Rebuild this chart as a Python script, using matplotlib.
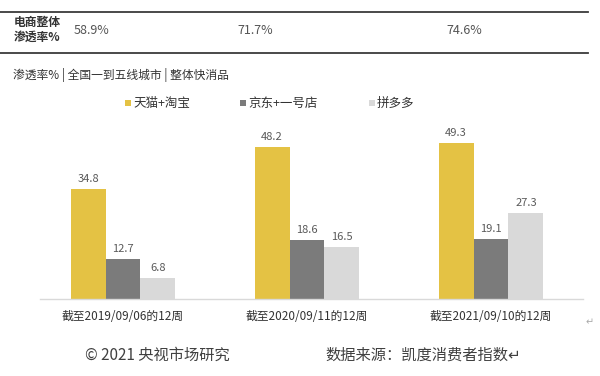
import matplotlib
matplotlib.use("Agg")
import matplotlib.pyplot as plt
from matplotlib.lines import Line2D
from matplotlib.patches import Rectangle
import numpy as np

plt.rcParams['font.family'] = ['Noto Sans CJK SC', 'DejaVu Sans']

# ---- data ----
categories = ["截至2019/09/06的12周", "截至2020/09/11的12周", "截至2021/09/10的12周"]
series_names = ["天猫+淘宝", "京东+一号店", "拼多多"]
tmall_taobao = [34.8, 48.2, 49.3]
jd_yhd = [12.7, 18.6, 19.1]
pdd = [6.8, 16.5, 27.3]
overall_label = "电商整体\n渗透率%"
overall_rate = ["58.9%", "71.7%", "74.6%"]
subtitle = "渗透率% | 全国一到五线城市 | 整体快消品"
footer_left = "© 2021 央视市场研究"
footer_right = "数据来源：凯度消费者指数↵"

colors = ["#E4C244", "#7B7B7B", "#D9D9D9"]

W, H = 600, 376
fig = plt.figure(figsize=(W / 100, H / 100), dpi=100)


def fy(y):
    return 1 - y / H


def fx(x):
    return x / W


# ---- table at top ----
for y in (12, 53):
    fig.add_artist(Line2D([0, fx(588)], [fy(y), fy(y)], color="#3A3A3A", lw=1.3))
fig.text(fx(14), fy(30), overall_label, fontsize=8.5, fontweight="bold",
         color="#333333", va="center", ha="left", linespacing=1.15)
for xp, t in zip([74, 237, 446], overall_rate):
    fig.text(fx(xp), fy(31), t, fontsize=9, color="#555555", va="center", ha="left")

# ---- subtitle ----
fig.text(fx(13), fy(75), subtitle, fontsize=8.5, color="#333333", va="center", ha="left")

# ---- legend ----
for sx, name, c in zip([128, 243, 372], series_names, colors):
    fig.add_artist(Rectangle((fx(sx - 3), fy(106)), fx(6), 6 / H, facecolor=c,
                             edgecolor="none", transform=fig.transFigure))
    fig.text(fx(sx + 5), fy(103), name, fontsize=9, color="#333333", va="center", ha="left")

# ---- bars ----
ax = fig.add_axes([fx(40), fy(299), fx(543), 169 / H])
x = np.arange(len(categories))
bw = 0.19
for i, (vals, c) in enumerate(zip([tmall_taobao, jd_yhd, pdd], colors)):
    xs = x + (i - 1) * bw
    ax.bar(xs, vals, width=bw, color=c, edgecolor="none")
    for xi, v in zip(xs, vals):
        ax.annotate(f"{v:.1f}", (xi, v), xytext=(0, 10), textcoords="offset pixels",
                    ha="center", va="center", fontsize=8, color="#595959")
for xi, lab in zip(x, categories):
    ax.annotate(lab, (xi, 0), xytext=(0, -18), textcoords="offset pixels",
                ha="center", va="center", fontsize=8.5, color="#333333",
                annotation_clip=False)

ax.set_xlim(-0.451, 2.5)
ax.set_ylim(0, 169 / 3.16)
ax.set_xticks([])
ax.set_yticks([])
for s in ("top", "left", "right"):
    ax.spines[s].set_visible(False)
ax.spines["bottom"].set_color("#D9D9D9")
ax.spines["bottom"].set_linewidth(1.0)
ax.patch.set_alpha(0)

fig.text(fx(590), fy(322), "↵", fontsize=7, color="#AAAAAA", va="center", ha="center")

# ---- footer ----
fig.text(fx(85), fy(355), footer_left, fontsize=11, color="#404040", va="center", ha="left")
fig.text(fx(325), fy(355), footer_right, fontsize=11, color="#404040", va="center", ha="left")

fig.savefig("out.png", dpi=100)
